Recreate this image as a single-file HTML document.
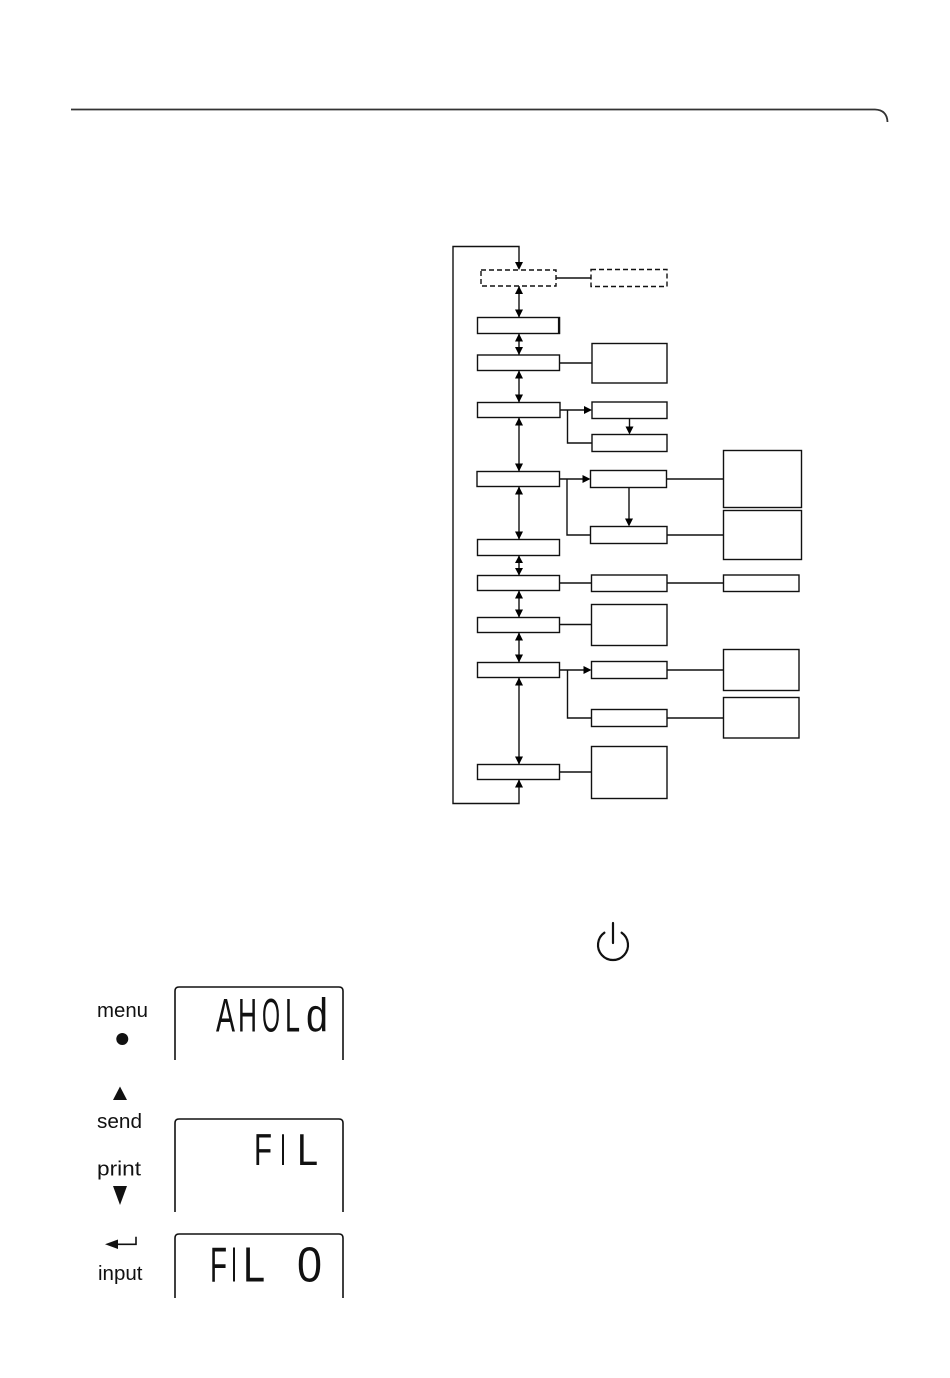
<!DOCTYPE html>
<html>
<head>
<meta charset="utf-8">
<style>
  html,body{margin:0;padding:0;background:#fff;}
  body{width:950px;height:1378px;overflow:hidden;position:relative;}
  svg{position:absolute;left:0;top:0;}
</style>
</head>
<body>
<svg width="950" height="1378" viewBox="0 0 950 1378" xmlns="http://www.w3.org/2000/svg">
  <!-- header rule -->
  <path d="M71,109.5 H875 Q887,110 887.5,122" fill="none" stroke="#333" stroke-width="1.8"/>

  <g fill="none" stroke="#111" stroke-width="1.4">
    <!-- loop -->
    <polyline points="519,779.5 519,803.5 453,803.5 453,246.5 519,246.5 519,268"/>
    <!-- dashed boxes -->
    <rect x="481" y="270" width="75" height="16" stroke-dasharray="5,3"/>
    <rect x="591" y="269.5" width="76" height="17" stroke-dasharray="5,3"/>
    <line x1="556" y1="278" x2="591" y2="278"/>

    <!-- main column boxes -->
    <rect x="477.5" y="317.5" width="82" height="16"/>
    <line x1="559" y1="317" x2="559" y2="334" stroke-width="2.2"/>
    <rect x="477.5" y="355" width="82" height="15.5"/>
    <rect x="477.5" y="402.5" width="82.5" height="15"/>
    <rect x="477" y="471.5" width="82.5" height="15"/>
    <rect x="477.5" y="539.5" width="82" height="16"/>
    <rect x="477.5" y="575.5" width="82" height="15"/>
    <rect x="477.5" y="617.5" width="82" height="15"/>
    <rect x="477.5" y="662.5" width="82" height="15"/>
    <rect x="477.5" y="764.5" width="82" height="15"/>

    <!-- vertical connectors main column -->
    <line x1="519" y1="286" x2="519" y2="317.5"/>
    <line x1="519" y1="333.5" x2="519" y2="355"/>
    <line x1="519" y1="370.5" x2="519" y2="402.5"/>
    <line x1="519" y1="417.5" x2="519" y2="471.5"/>
    <line x1="519" y1="486.5" x2="519" y2="539.5"/>
    <line x1="519" y1="555.5" x2="519" y2="575.5"/>
    <line x1="519" y1="590.5" x2="519" y2="617.5"/>
    <line x1="519" y1="632.5" x2="519" y2="662.5"/>
    <line x1="519" y1="677.5" x2="519" y2="764.5"/>

    <!-- row 3 -->
    <line x1="559.5" y1="363" x2="592" y2="363"/>
    <rect x="592" y="343.5" width="75" height="39.5"/>

    <!-- row 4 -->
    <line x1="560" y1="410" x2="586" y2="410"/>
    <rect x="592" y="402" width="75" height="16.5"/>
    <polyline points="567.5,410 567.5,443 592,443"/>
    <rect x="592" y="434.5" width="75" height="17"/>
    <line x1="629.5" y1="418.5" x2="629.5" y2="428"/>

    <!-- row 5 -->
    <line x1="559.5" y1="479" x2="584" y2="479"/>
    <rect x="590.5" y="470.5" width="76" height="17"/>
    <polyline points="567,479 567,535 590.5,535"/>
    <rect x="590.5" y="526.5" width="76.5" height="17"/>
    <line x1="629" y1="487.5" x2="629" y2="520"/>
    <line x1="667" y1="479" x2="723.5" y2="479"/>
    <rect x="723.5" y="450.5" width="78" height="57"/>
    <line x1="667" y1="535" x2="723.5" y2="535"/>
    <rect x="723.5" y="510.5" width="78" height="49"/>

    <!-- row 7 -->
    <line x1="559.5" y1="583" x2="591.5" y2="583"/>
    <rect x="591.5" y="575" width="75.5" height="16.5"/>
    <line x1="667" y1="583" x2="723.5" y2="583"/>
    <rect x="723.5" y="575" width="75.5" height="16.5"/>

    <!-- row 8 -->
    <line x1="559.5" y1="624.5" x2="591.5" y2="624.5"/>
    <rect x="591.5" y="604.5" width="75.5" height="41"/>

    <!-- row 9 -->
    <line x1="559.5" y1="670" x2="585" y2="670"/>
    <rect x="591.5" y="661.5" width="75.5" height="17"/>
    <polyline points="567.5,670 567.5,718 591.5,718"/>
    <rect x="591.5" y="709.5" width="75.5" height="17"/>
    <line x1="667" y1="670" x2="723.5" y2="670"/>
    <rect x="723.5" y="649.5" width="75.5" height="41"/>
    <line x1="667" y1="718" x2="723.5" y2="718"/>
    <rect x="723.5" y="697.5" width="75.5" height="40.5"/>

    <!-- row 10 -->
    <line x1="559.5" y1="772" x2="591.5" y2="772"/>
    <rect x="591.5" y="746.5" width="75.5" height="52"/>
  </g>

  <!-- arrowheads -->
  <g fill="#000">
    <polygon points="515,262 523,262 519,270"/>
    <polygon points="515,294 523,294 519,286"/><polygon points="515,309.5 523,309.5 519,317.5"/>
    <polygon points="515,341.5 523,341.5 519,333.5"/><polygon points="515,347 523,347 519,355"/>
    <polygon points="515,378.5 523,378.5 519,370.5"/><polygon points="515,394.5 523,394.5 519,402.5"/>
    <polygon points="515,425.5 523,425.5 519,417.5"/><polygon points="515,463.5 523,463.5 519,471.5"/>
    <polygon points="515,494.5 523,494.5 519,486.5"/><polygon points="515,531.5 523,531.5 519,539.5"/>
    <polygon points="515,563 523,563 519,555.5"/><polygon points="515,568 523,568 519,575.5"/>
    <polygon points="515,598.5 523,598.5 519,590.5"/><polygon points="515,609.5 523,609.5 519,617.5"/>
    <polygon points="515,640.5 523,640.5 519,632.5"/><polygon points="515,654.5 523,654.5 519,662.5"/>
    <polygon points="515,685.5 523,685.5 519,677.5"/><polygon points="515,756.5 523,756.5 519,764.5"/>
    <polygon points="515,787.5 523,787.5 519,779.5"/>
    <polygon points="584,406 584,414 592,410"/>
    <polygon points="582.5,475 582.5,483 590.5,479"/>
    <polygon points="583.5,666 583.5,674 591.5,670"/>
    <polygon points="625.5,426.5 633.5,426.5 629.5,434.5"/>
    <polygon points="625,518.5 633,518.5 629,526.5"/>
  </g>

  <!-- power icon -->
  <g fill="none" stroke="#111" stroke-width="2.2" stroke-linecap="round">
    <path d="M621.6,932.7 A15,15 0 1 1 604.4,932.7"/>
    <line x1="613" y1="923" x2="613" y2="943"/>
  </g>

  <!-- left labels -->
  <g font-family="Liberation Sans, Arial, sans-serif" font-size="20" fill="#111">
    <text x="97" y="1017" textLength="51" lengthAdjust="spacingAndGlyphs">menu</text>
    <text x="97" y="1128" textLength="45" lengthAdjust="spacingAndGlyphs">send</text>
    <text x="97" y="1175.5" textLength="44" lengthAdjust="spacingAndGlyphs">print</text>
    <text x="98" y="1280" textLength="44.5" lengthAdjust="spacingAndGlyphs">input</text>
  </g>
  <circle cx="122.3" cy="1039" r="6" fill="#111"/>
  <polygon points="113,1100 127,1100 120,1086.5" fill="#111"/>
  <polygon points="113,1186 127,1186 120,1205" fill="#111"/>
  <!-- enter arrow -->
  <g stroke="#111" stroke-width="1.6" fill="none">
    <polyline points="114,1244.3 136,1244.3 136,1236.7"/>
  </g>
  <polygon points="105,1244.3 118,1239.5 118,1249" fill="#111"/>

  <!-- LCD panels -->
  <g fill="none" stroke="#111" stroke-width="1.6">
    <path d="M175,1060 V991 Q175,987 179,987 H339 Q343,987 343,991 V1060"/>
    <path d="M175,1212 V1123 Q175,1119 179,1119 H339 Q343,1119 343,1123 V1212"/>
    <path d="M175,1298 V1238 Q175,1234 179,1234 H339 Q343,1234 343,1238 V1298"/>
  </g>
  <g font-family="Liberation Sans, Arial, sans-serif" fill="#111">
    <!-- AHOLd -->
    <text x="216" y="1031.7" font-size="47" textLength="19" lengthAdjust="spacingAndGlyphs">A</text>
    <text x="238" y="1031.7" font-size="47" textLength="19" lengthAdjust="spacingAndGlyphs">H</text>
    <text x="262" y="1031.7" font-size="47" textLength="18" lengthAdjust="spacingAndGlyphs">O</text>
    <text x="285" y="1031.7" font-size="47" textLength="15" lengthAdjust="spacingAndGlyphs">L</text>
    <text x="306" y="1031.7" font-size="47" textLength="22" lengthAdjust="spacingAndGlyphs">d</text>
    <!-- FIL -->
    <text x="254" y="1165" font-size="44.5" textLength="18" lengthAdjust="spacingAndGlyphs">F</text>
    <text x="280" y="1165" font-size="44.5" textLength="6" lengthAdjust="spacingAndGlyphs">I</text>
    <text x="297" y="1165" font-size="44.5" textLength="21" lengthAdjust="spacingAndGlyphs">L</text>
    <!-- FIL 0 -->
    <text x="210" y="1281.7" font-size="49" textLength="17" lengthAdjust="spacingAndGlyphs">F</text>
    <text x="231" y="1281.7" font-size="49" textLength="6" lengthAdjust="spacingAndGlyphs">I</text>
    <text x="243" y="1281.7" font-size="49" textLength="22" lengthAdjust="spacingAndGlyphs">L</text>
    <text x="297" y="1281.7" font-size="49" textLength="25" lengthAdjust="spacingAndGlyphs">0</text>
  </g>
</svg>
</body>
</html>
